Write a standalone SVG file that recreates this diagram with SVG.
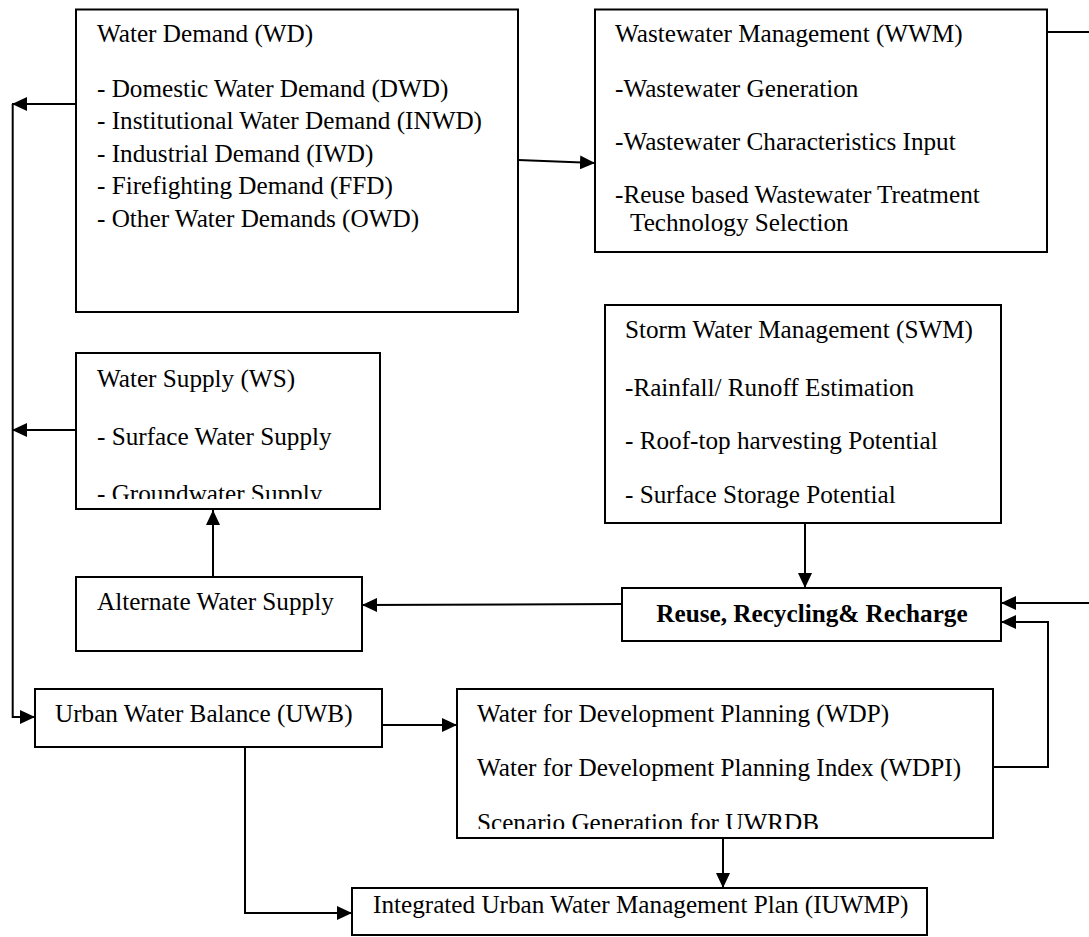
<svg xmlns="http://www.w3.org/2000/svg" width="1089" height="937" viewBox="0 0 1089 937">
<style>
.box{fill:#fff;stroke:#000;stroke-width:2}
.t{font-family:"Liberation Serif","Times New Roman",serif;font-size:25.2px;fill:#000}
.b{font-weight:bold}
.c{fill:none;stroke:#000;stroke-width:2}
</style>
<defs>
<marker id="ah" markerUnits="userSpaceOnUse" markerWidth="16" markerHeight="14" refX="15" refY="7" orient="auto">
<path d="M0,0 L15,7 L0,14 z" fill="#000"/>
</marker>
<clipPath id="clipWS"><rect x="76" y="353" width="304" height="146"/></clipPath>
<clipPath id="clipWDP"><rect x="457" y="689" width="536" height="140"/></clipPath>
</defs>
<rect width="1089" height="937" fill="#fff"/>

<g id="connectors">
<path class="c" d="M12.7,718 L12.7,104"/>
<path class="c" d="M76,104 L12,104" marker-end="url(#ah)"/>
<path class="c" d="M76,430 L12,430" marker-end="url(#ah)"/>
<path class="c" d="M12.7,717 L35,717" marker-end="url(#ah)"/>
<path class="c" d="M518,160 L595,163" marker-end="url(#ah)"/>
<path class="c" d="M1047,32 L1089,32"/>
<path class="c" d="M1089,603 L1001,603" marker-end="url(#ah)"/>
<path class="c" d="M993,767 L1048,767 L1048,622 L1001,622" marker-end="url(#ah)"/>
<path class="c" d="M805,523 L805,588" marker-end="url(#ah)"/>
<path class="c" d="M622,604 L362,605" marker-end="url(#ah)"/>
<path class="c" d="M213,577 L213,510" marker-end="url(#ah)"/>
<path class="c" d="M382,725 L457,725" marker-end="url(#ah)"/>
<path class="c" d="M245,747 L245,913 L352,913" marker-end="url(#ah)"/>
<path class="c" d="M723,838 L723,888" marker-end="url(#ah)"/>
</g>

<g id="wd">
<rect class="box" x="76" y="9.5" width="442" height="302.5"/>
<text class="t" x="97" y="42">Water Demand (WD)</text>
<text class="t" x="97" y="96.5">- Domestic Water Demand (DWD)</text>
<text class="t" x="97" y="129">- Institutional Water Demand (INWD)</text>
<text class="t" x="97" y="161.5">- Industrial Demand (IWD)</text>
<text class="t" x="97" y="194">- Firefighting Demand (FFD)</text>
<text class="t" x="97" y="226.5">- Other Water Demands (OWD)</text>
</g>

<g id="wwm">
<rect class="box" x="595" y="9.5" width="452" height="242.5"/>
<text class="t" x="615" y="42">Wastewater Management (WWM)</text>
<text class="t" x="615" y="97">-Wastewater Generation</text>
<text class="t" x="615" y="150">-Wastewater Characteristics Input</text>
<text class="t" x="615" y="203">-Reuse based Wastewater Treatment</text>
<text class="t" x="630" y="231">Technology Selection</text>
</g>

<g id="ws">
<rect class="box" x="76" y="353" width="304" height="156"/>
<g clip-path="url(#clipWS)">
<text class="t" x="97" y="387">Water Supply (WS)</text>
<text class="t" x="97" y="445">- Surface Water Supply</text>
<text class="t" x="97" y="502">- Groundwater Supply</text>
</g>
</g>

<g id="swm">
<rect class="box" x="605" y="305" width="396" height="218"/>
<text class="t" x="625" y="338">Storm Water Management (SWM)</text>
<text class="t" x="625" y="396">-Rainfall/ Runoff Estimation</text>
<text class="t" x="625" y="449">- Roof-top harvesting Potential</text>
<text class="t" x="625" y="503">- Surface Storage Potential</text>
</g>

<g id="aws">
<rect class="box" x="76" y="577" width="286" height="74"/>
<text class="t" x="97" y="610">Alternate Water Supply</text>
</g>

<g id="rrr">
<rect class="box" x="622" y="588" width="379" height="53"/>
<text class="t b" x="812" y="622" text-anchor="middle">Reuse, Recycling&amp; Recharge</text>
</g>

<g id="uwb">
<rect class="box" x="35" y="689" width="347" height="58"/>
<text class="t" x="55" y="722">Urban Water Balance (UWB)</text>
</g>

<g id="wdp">
<rect class="box" x="457" y="689" width="536" height="149"/>
<g clip-path="url(#clipWDP)">
<text class="t" x="477" y="722">Water for Development Planning (WDP)</text>
<text class="t" x="477" y="776">Water for Development Planning Index (WDPI)</text>
<text class="t" x="477" y="831">Scenario Generation for UWRDB</text>
</g>
</g>

<g id="iuwmp">
<rect class="box" x="352" y="888" width="575" height="47"/>
<text class="t" x="373" y="913">Integrated Urban Water Management Plan (IUWMP)</text>
</g>
</svg>
